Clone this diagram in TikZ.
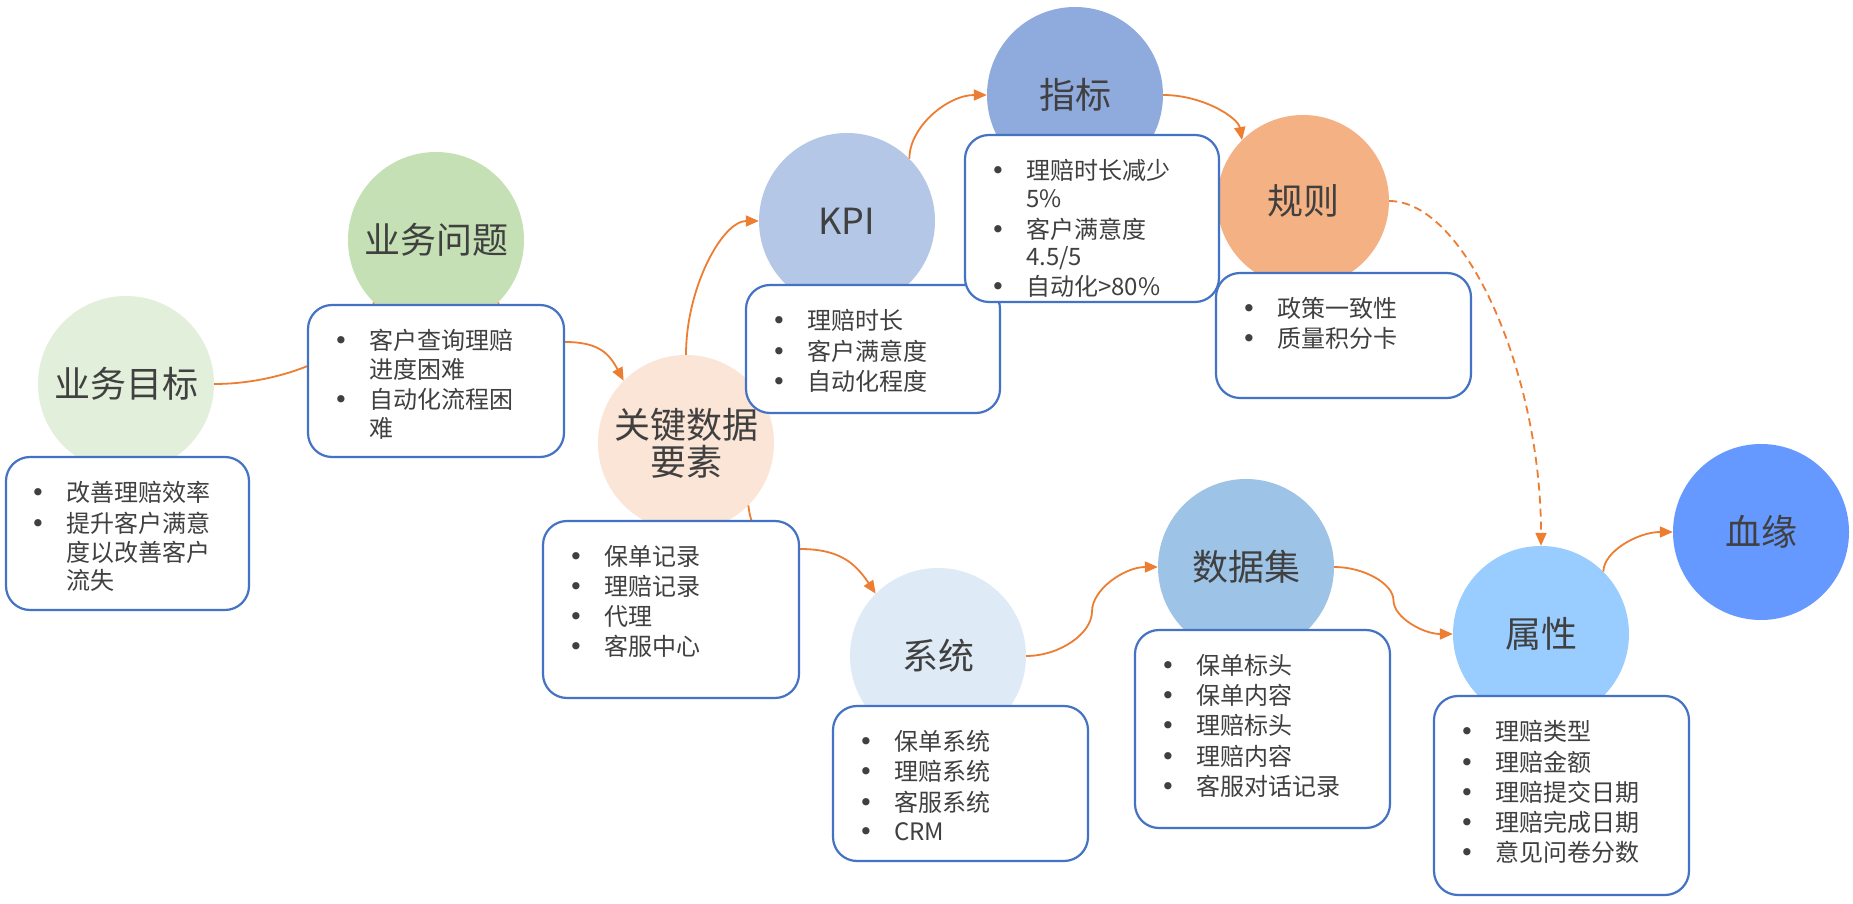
\documentclass[tikz,border=0pt]{standalone}
\usepackage{fontspec}
\setmainfont{Noto Sans CJK SC}
\newfontfamily\bulfont{DejaVu Sans}
\usetikzlibrary{arrows.meta,calc}
\definecolor{txt}{HTML}{404040}
\definecolor{boxblue}{HTML}{4472C4}
\definecolor{orng}{HTML}{ED7D31}
\definecolor{cA}{HTML}{E2EFDA}
\definecolor{cB}{HTML}{C5E0B4}
\definecolor{cC}{HTML}{FBE5D6}
\definecolor{cD}{HTML}{B4C7E7}
\definecolor{cE}{HTML}{8FAADC}
\definecolor{cF}{HTML}{F4B183}
\definecolor{cG}{HTML}{DEEBF7}
\definecolor{cH}{HTML}{9DC3E6}
\definecolor{cI}{HTML}{99CCFF}
\definecolor{cJ}{HTML}{6699FF}
\newcommand\bul{\makebox[24pt][c]{\bulfont\fontsize{25}{25}\selectfont •}\hspace*{16pt}}
\newcommand\ind{\hspace*{40pt}}
\begin{document}
\begin{tikzpicture}[x=1pt,y=1pt,
  circ/.style={circle,minimum size=176pt,inner sep=0pt,text=txt,
    font=\fontsize{36}{37}\selectfont,align=center},
  box/.style={draw=boxblue,line width=2.2pt,rounded corners=24pt,fill=white,inner sep=0pt},
  lst/.style={anchor=base west,inner sep=0pt,text=txt,font=\fontsize{24}{27.5}\selectfont},
  conn/.style={draw=orng,line width=1.8pt},
  arr/.style={conn,-{Triangle[length=13pt,width=11pt]}}]
\useasboundingbox (0,0) rectangle (1853,903);
\fill[white] (0,0) rectangle (1853,903);

% circles
\node[circ,fill=cA] (c1) at (126,519) {业务目标};
\node[circ,fill=cB] (c2) at (436,663) {业务问题};
\node[circ,fill=cC] (c3) at (686,460) {关键数据\\要素};
\node[circ,fill=cD] (c4) at (847,682) {KPI};
\node[circ,fill=cE] (c5) at (1075,808) {指标};
\node[circ,fill=cF,minimum size=172pt] (c6) at (1303,702) {规则};
\node[circ,fill=cG] (c7) at (938,247) {系统};
\node[circ,fill=cH] (c8) at (1246,336) {数据集};
\node[circ,fill=cI] (c9) at (1541,269) {属性};
\node[circ,fill=cJ] (c10) at (1761,371) {血缘};

% connectors
\coordinate (m2) at (565,561);
\coordinate (m7) at (800,354);
\coordinate (m8) at ($(c7.east)!0.5!(c8.west)$);
\coordinate (m9) at ($(c8.east)!0.5!(c9.west)$);
\draw[conn] (c1.east) .. controls +(80,0) and +(0,-41) .. (c2.-135);
\draw[arr] (c2.-45) .. controls +(0,-30) and +(-40,0) .. (m2)
   .. controls +(35,0) and +(-14,26) .. (c3.135);
\draw[arr] (c3.north) .. controls +(0,67) and +(-36.5,0) .. (c4.west);
\draw[arr] (c4.45) .. controls +(0,32) and +(-39,0) .. (c5.west);
\draw[arr] (c5.east) .. controls +(39.5,0) and +(-4,22.5) .. (c6.135);
\draw[arr,dash pattern=on 8pt off 5pt] (c6.east) .. controls +(76,0) and +(0,172.5) .. (c9.north);
\draw[arr] (c3.-45) .. controls +(4,-35) and +(-30,0) .. (m7)
   .. controls +(40,0) and +(-20,30) .. (c7.135);
\draw[arr] (c7.east) .. controls +(33,0) and +(0,-22.25) .. (m8)
   .. controls +(0,22.25) and +(-33,0) .. (c8.west);
\draw[arr] (c8.east) .. controls +(29.75,0) and +(0,16.75) .. (m9)
   .. controls +(0,-16.75) and +(-29.75,0) .. (c9.west);
\draw[arr] (c9.45) .. controls +(0,20) and +(-35,0) .. (c10.west);

% boxes
\node[box,minimum width=243pt,minimum height=153pt] (b1) at (127.5,369.5) {};
\node[box,minimum width=256pt,minimum height=152pt] (b2) at (436,522) {};
\node[box,minimum width=256pt,minimum height=177pt] (b3) at (671,293.5) {};
\node[box,minimum width=254pt,minimum height=128pt] (b4) at (873,554) {};
\node[box,minimum width=254pt,minimum height=167pt] (b5) at (1092,684.5) {};
\node[box,minimum width=255pt,minimum height=125pt] (b6) at (1343.5,567.5) {};
\node[box,minimum width=255pt,minimum height=155pt] (b7) at (960.5,119.5) {};
\node[box,minimum width=255pt,minimum height=198pt] (b8) at (1262.5,174) {};
\node[box,minimum width=255pt,minimum height=199pt] (b9) at (1561.5,107.5) {};

% box texts
\node[lst] (t1) at ($(b1.north west)+(21,-46)$) {\begin{tabular}[t]{@{}l@{}}\bul 改善理赔效率\\[2pt] \bul 提升客户满意\\ \ind 度以改善客户\\ \ind 流失\end{tabular}};
\node[lst] (t2) at ($(b2.north west)+(22,-46)$) {\begin{tabular}[t]{@{}l@{}}\bul 客户查询理赔\\ \ind 进度困难\\[2pt] \bul 自动化流程困\\ \ind 难\end{tabular}};
\node[lst] (t3) at ($(b3.north west)+(22,-46)$) {\begin{tabular}[t]{@{}l@{}}\bul 保单记录\\[1.5pt] \bul 理赔记录\\[1.5pt] \bul 代理\\[1.5pt] \bul 客服中心\end{tabular}};
\node[lst] (t4) at ($(b4.north west)+(22,-46)$) {\begin{tabular}[t]{@{}l@{}}\bul 理赔时长\\[1.5pt] \bul 客户满意度\\[1.5pt] \bul 自动化程度\end{tabular}};
\node[lst] (t5) at ($(b5.north west)+(22,-46)$) {\begin{tabular}[t]{@{}l@{}}\bul 理赔时长减少\\ \ind 5\%\\[2pt] \bul 客户满意度\\ \ind 4.5/5\\[2pt] \bul 自动化>80\%\end{tabular}};
\node[lst] (t6) at ($(b6.north west)+(22,-46)$) {\begin{tabular}[t]{@{}l@{}}\bul 政策一致性\\[1.5pt] \bul 质量积分卡\end{tabular}};
\node[lst] (t7) at ($(b7.north west)+(22,-46)$) {\begin{tabular}[t]{@{}l@{}}\bul 保单系统\\[1.5pt] \bul 理赔系统\\[1.5pt] \bul 客服系统\\[1.5pt] \bul CRM\end{tabular}};
\node[lst] (t8) at ($(b8.north west)+(22,-46)$) {\begin{tabular}[t]{@{}l@{}}\bul 保单标头\\[1.5pt] \bul 保单内容\\[1.5pt] \bul 理赔标头\\[1.5pt] \bul 理赔内容\\[1.5pt] \bul 客服对话记录\end{tabular}};
\node[lst] (t9) at ($(b9.north west)+(22,-46)$) {\begin{tabular}[t]{@{}l@{}}\bul 理赔类型\\[1.5pt] \bul 理赔金额\\[1.5pt] \bul 理赔提交日期\\[1.5pt] \bul 理赔完成日期\\[1.5pt] \bul 意见问卷分数\end{tabular}};
\end{tikzpicture}
\end{document}
